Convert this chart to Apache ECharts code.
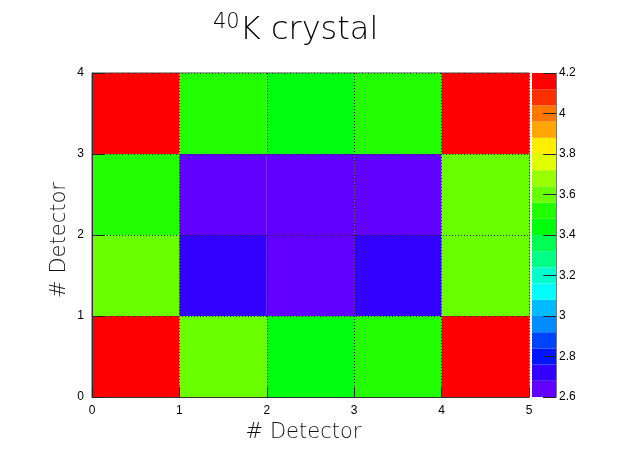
<!DOCTYPE html>
<html>
<head>
<meta charset="utf-8">
<script src="https://cdn.jsdelivr.net/npm/echarts@6/dist/echarts.min.js"></script>
<style>
html, body { margin: 0; padding: 0; background: #fff; }
#chart { width: 630px; height: 454px; }
</style>
</head>
<body>
<div id="chart"></div>
<script>
// counts per detector cell, one array per row (y = 0 at the bottom)
const row0 = [4.15, 3.60, 3.44, 3.52, 4.14]
const row1 = [3.60, 2.72, 2.66, 2.73, 3.61]
const row2 = [3.51, 2.64, 2.65, 2.66, 3.60]
const row3 = [4.16, 3.52, 3.44, 3.53, 4.15]
const rows = [row0, row1, row2, row3]

// colour contour levels (20 bands) and the ROOT rainbow colours for them
const levels = [2.6, 2.68, 2.76, 2.84, 2.92, 3.0, 3.08, 3.16, 3.24, 3.32, 3.4,
    3.48, 3.56, 3.64, 3.72, 3.8, 3.88, 3.96, 4.04, 4.12, 4.2]
const bandColors = ['#6200ff', '#3300ff', '#0014ff', '#0044ff', '#008bff', '#00bbff',
    '#00fffc', '#00ffcc', '#00ff85', '#00ff55', '#00ff0e', '#22ff00', '#69ff00',
    '#99ff00', '#e0ff00', '#ffee00', '#ffa700', '#ff7700', '#ff3000', '#ff0000']

const cells = []
rows.forEach((row, y) => row.forEach((v, x) => cells.push([x, y, v])))

const bands = bandColors.map((c, i) => [levels[i], levels[i + 1], i])
const pieces = bandColors.map((c, i) => ({ gte: levels[i], lt: levels[i + 1] + (i === 19 ? 1 : 0), color: c }))

const chart = echarts.init(document.getElementById('chart'))
const labelFont = { fontFamily: 'Liberation Sans', fontSize: 12, color: '#000' }
const titleFont = 'DejaVu Sans'

const option = {
    animation: false,
    title: {
        text: '{sup|40}{k|K crystal}',
        left: 208,
        top: 7,
        textStyle: {
            rich: {
                sup: { fontFamily: titleFont, fontWeight: 200, fontSize: 21, color: '#000', verticalAlign: 'top', lineHeight: 38 },
                k: { fontFamily: titleFont, fontWeight: 200, fontSize: 32, color: '#000', lineHeight: 38 }
            }
        }
    },
    // y axis title, rotated like ROOT's
    graphic: [{
        type: 'text',
        x: 60,
        y: 240,
        rotation: Math.PI / 2,
        style: {
            text: '# Detector',
            fontFamily: titleFont, fontWeight: 200, fontSize: 21, fill: '#111',
            align: 'center', verticalAlign: 'middle'
        }
    }],
    visualMap: {
        type: 'piecewise',
        show: false,
        dimension: 2,
        seriesIndex: 0,
        pieces: pieces
    },
    grid: [
        { left: 92, top: 73, width: 437, height: 324, show: true, borderColor: '#444', borderWidth: 1 },
        { left: 532, top: 73, width: 24, height: 324 }
    ],
    xAxis: [
        {
            gridIndex: 0, type: 'value', min: 0, max: 5, interval: 1, z: 5,
            name: '# Detector', nameLocation: 'middle', nameGap: 22,
            nameTextStyle: { fontFamily: titleFont, fontWeight: 200, fontSize: 21, color: '#111', padding: [0, 14, 0, 0] },
            axisLine: { lineStyle: { color: '#333' } },
            axisTick: { inside: true, length: 10, lineStyle: { color: '#222' } },
            axisLabel: labelFont,
            splitLine: { show: true, lineStyle: { type: [1, 2], color: '#222', width: 1 } }
        },
        { gridIndex: 1, type: 'value', min: 0, max: 1, show: false }
    ],
    yAxis: [
        {
            gridIndex: 0, type: 'value', min: 0, max: 4, interval: 1, z: 5,
            axisLine: { show: true, lineStyle: { color: '#333' } },
            axisTick: { show: true, inside: true, length: 13, lineStyle: { color: '#222' } },
            axisLabel: labelFont,
            splitLine: { show: true, lineStyle: { type: [1, 2], color: '#222', width: 1 } }
        },
        {
            gridIndex: 1, type: 'value', min: 2.6, max: 4.2, interval: 0.2, position: 'right', z: 5,
            axisLine: { show: true, onZero: false, lineStyle: { color: '#777' } },
            axisTick: { show: true, inside: true, length: 13, lineStyle: { color: '#222' } },
            axisLabel: Object.assign({ margin: 3 }, labelFont),
            splitLine: { show: false }
        }
    ],
    series: [
        {
            type: 'custom',
            xAxisIndex: 0,
            yAxisIndex: 0,
            data: cells,
            encode: { x: 0, y: 1 },
            renderItem: (params, api) => {
                const p0 = api.coord([api.value(0), api.value(1) + 1])
                const p1 = api.coord([api.value(0) + 1, api.value(1)])
                return {
                    type: 'rect',
                    shape: { x: p0[0], y: p0[1], width: p1[0] - p0[0], height: p1[1] - p0[1] },
                    style: { fill: api.visual('color') }
                }
            }
        },
        {
            type: 'custom',
            xAxisIndex: 1,
            yAxisIndex: 1,
            data: bands,
            encode: { y: [0, 1] },
            renderItem: (params, api) => {
                const p0 = api.coord([0, api.value(1)])
                const p1 = api.coord([1, api.value(0)])
                return {
                    type: 'rect',
                    shape: { x: p0[0], y: p0[1], width: p1[0] - p0[0], height: p1[1] - p0[1] },
                    style: { fill: bandColors[api.value(2)] }
                }
            }
        }
    ]
}

chart.setOption(option)
</script>
</body>
</html>
